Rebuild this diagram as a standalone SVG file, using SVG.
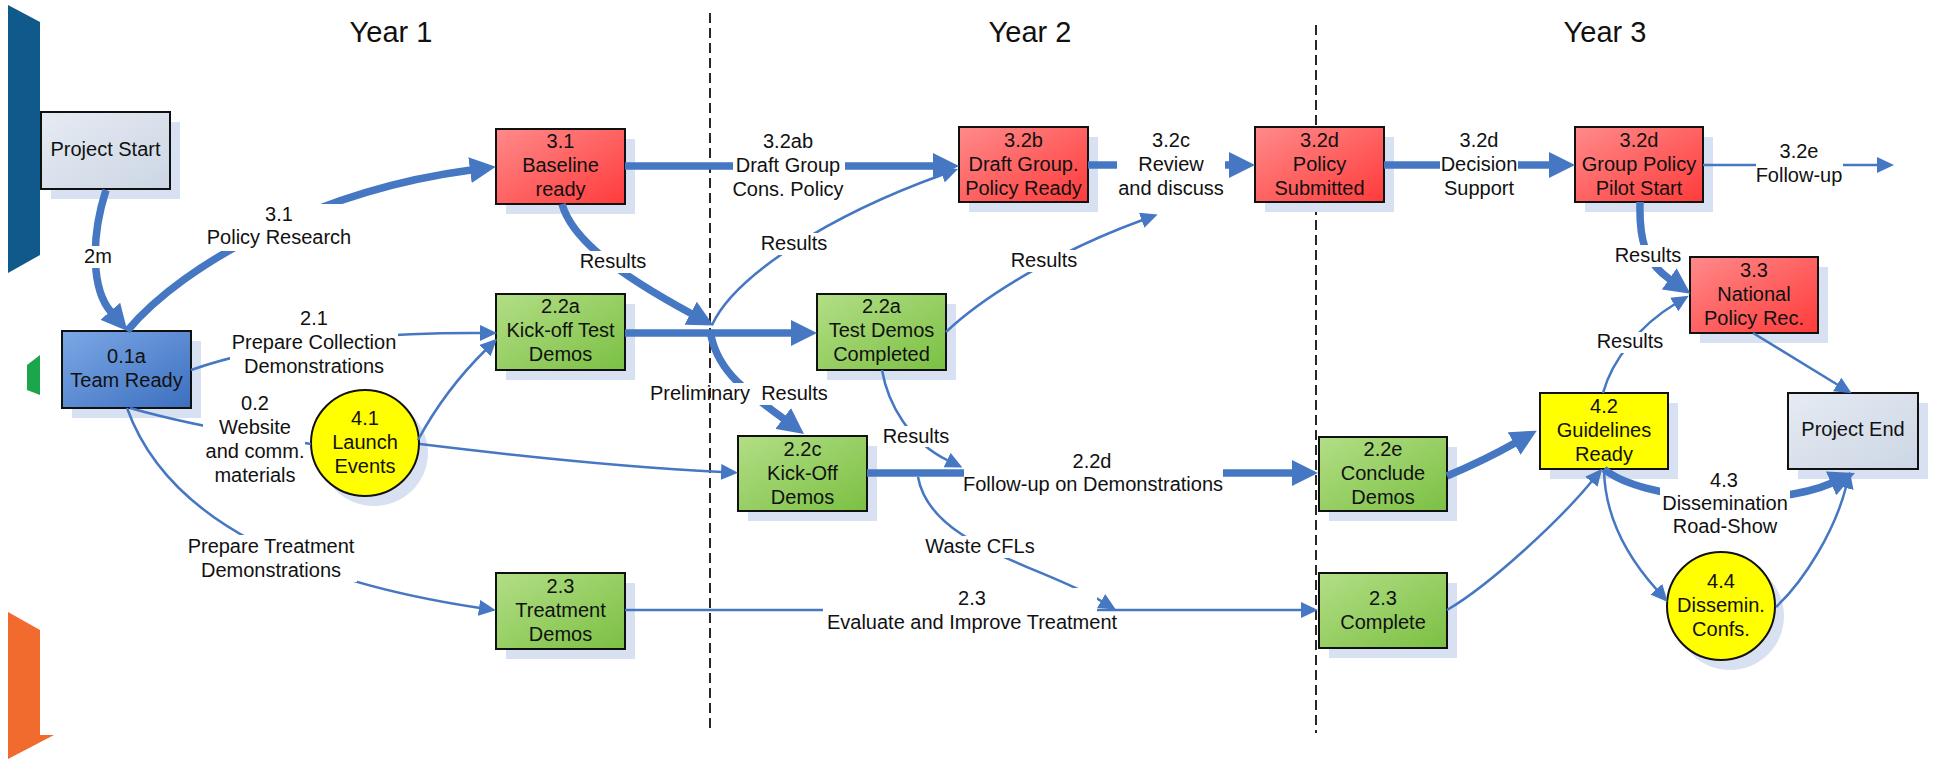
<svg xmlns="http://www.w3.org/2000/svg" width="1933" height="759" viewBox="0 0 1933 759">
<style>
  text { font-family: "Liberation Sans", Arial, sans-serif; font-size: 20px; fill: #111; text-anchor: middle; }
  .year { font-size: 29px; }
  .box { stroke: #111; stroke-width: 2; }
  .shadow { fill: #d8e1f1; }
  .c { fill: none; stroke: #4677c3; stroke-linecap: butt; }
  .thick { stroke-width: 7.5; marker-end: url(#ahBig); }
  .thin { stroke-width: 2.5; marker-end: url(#ahSmall); }
  .nomark { marker-end: none; }
  .div { stroke: #111; stroke-width: 1.8; stroke-dasharray: 10 5; fill: none; }
  .red { fill: url(#gRed); }
  .green { fill: url(#gGreen); }
  .blue { fill: url(#gBlue); }
  .gray { fill: url(#gGray); }
  .yellow { fill: #ffff00; }
</style>
<defs>
  <linearGradient id="gRed" x1="0" y1="0" x2="1" y2="1">
    <stop offset="0" stop-color="#ff8a8a"/><stop offset="1" stop-color="#ff3b3b"/>
  </linearGradient>
  <linearGradient id="gGreen" x1="0" y1="0" x2="1" y2="1">
    <stop offset="0" stop-color="#b3de86"/><stop offset="1" stop-color="#7bc043"/>
  </linearGradient>
  <linearGradient id="gBlue" x1="0" y1="0" x2="1" y2="1">
    <stop offset="0" stop-color="#7ba8e6"/><stop offset="1" stop-color="#3d6fbf"/>
  </linearGradient>
  <linearGradient id="gGray" x1="0" y1="0" x2="1" y2="1">
    <stop offset="0" stop-color="#e6ebf3"/><stop offset="1" stop-color="#ccd6e4"/>
  </linearGradient>
  <marker id="ahBig" markerUnits="userSpaceOnUse" viewBox="0 0 26 26" markerWidth="26" markerHeight="26" refX="1" refY="13" orient="auto">
    <path d="M0,0 L26,13 L0,26 z" fill="#4677c3"/>
  </marker>
  <marker id="ahSmall" markerUnits="userSpaceOnUse" viewBox="0 0 17 16" markerWidth="17" markerHeight="16" refX="1" refY="8" orient="auto">
    <path d="M0,0 L17,8 L0,16 z" fill="#4677c3"/>
  </marker>
  <mask id="gaps" maskUnits="userSpaceOnUse" x="0" y="0" width="1933" height="759">
    <rect x="0" y="0" width="1933" height="759" fill="#fff"/>
    <g fill="#000">
      <rect x="82" y="246" width="32" height="22"/>
      <rect x="205" y="204" width="147" height="47"/>
      <rect x="578" y="251" width="70" height="22"/>
      <rect x="733" y="130" width="112" height="71"/>
      <rect x="760" y="233" width="69" height="22"/>
      <rect x="1117" y="130" width="108" height="70"/>
      <rect x="1010" y="250" width="69" height="22"/>
      <rect x="1440" y="130" width="78" height="70"/>
      <rect x="1756" y="140" width="87" height="48"/>
      <rect x="1613" y="245" width="70" height="22"/>
      <rect x="1596" y="332" width="69" height="21"/>
      <rect x="230" y="308" width="168" height="70"/>
      <rect x="203" y="392" width="102" height="95"/>
      <rect x="185" y="535" width="172" height="47"/>
      <rect x="646" y="383" width="184" height="22"/>
      <rect x="882" y="426" width="68" height="21"/>
      <rect x="964" y="450" width="259" height="47"/>
      <rect x="922" y="536" width="116" height="22"/>
      <rect x="823" y="588" width="274" height="46"/>
      <rect x="1660" y="470" width="130" height="68"/>
    </g>
  </mask>
</defs>

<rect x="0" y="0" width="1933" height="759" fill="#ffffff"/>

<g id="side-bars">
  <polygon points="8,5 40,22 40,255 8,273" fill="#0f5a8b"/>
  <polygon points="27,365 40,355 40,395 27,390" fill="#1ba64b"/>
  <polygon points="8,612 40,630 40,735 54,735 8,759" fill="#f26b2e"/>
</g>

<g id="years">
  <text class="year" x="391" y="42">Year 1</text>
  <text class="year" x="1030" y="42">Year 2</text>
  <text class="year" x="1605" y="42">Year 3</text>
  <line class="div" x1="710" y1="13" x2="710" y2="733"/>
  <line class="div" x1="1316" y1="25" x2="1316" y2="733"/>
</g>

<g id="node-project-start">
  <rect class="shadow" x="51" y="122" width="129" height="77"/>
  <rect class="box gray" x="41" y="112" width="129" height="77"/>
  <text x="105.5" y="156">Project Start</text>
</g>
<g id="node-0-1a">
  <rect class="shadow" x="72" y="341" width="129" height="77"/>
  <rect class="box blue" x="62" y="331" width="129" height="77"/>
  <text x="126.5" y="363">0.1a</text>
  <text x="126.5" y="387">Team Ready</text>
</g>
<g id="node-3-1">
  <rect class="shadow" x="506" y="139" width="129" height="75"/>
  <rect class="box red" x="496" y="129" width="129" height="75"/>
  <text x="560.5" y="148">3.1</text>
  <text x="560.5" y="172">Baseline</text>
  <text x="560.5" y="196">ready</text>
</g>
<g id="node-2-2a-kickoff">
  <rect class="shadow" x="506" y="304" width="129" height="76"/>
  <rect class="box green" x="496" y="294" width="129" height="76"/>
  <text x="560.5" y="313">2.2a</text>
  <text x="560.5" y="337">Kick-off Test</text>
  <text x="560.5" y="361">Demos</text>
</g>
<g id="node-2-3-treatment">
  <rect class="shadow" x="506" y="583" width="129" height="76"/>
  <rect class="box green" x="496" y="573" width="129" height="76"/>
  <text x="560.5" y="593">2.3</text>
  <text x="560.5" y="617">Treatment</text>
  <text x="560.5" y="641">Demos</text>
</g>
<g id="node-4-1">
  <ellipse class="shadow" cx="374" cy="453" rx="54" ry="53"/>
  <ellipse class="box yellow" cx="365" cy="443" rx="54" ry="53"/>
  <text x="365" y="425">4.1</text>
  <text x="365" y="449">Launch</text>
  <text x="365" y="473">Events</text>
</g>
<g id="node-2-2a-completed">
  <rect class="shadow" x="827" y="304" width="129" height="76"/>
  <rect class="box green" x="817" y="294" width="129" height="76"/>
  <text x="881.5" y="313">2.2a</text>
  <text x="881.5" y="337">Test Demos</text>
  <text x="881.5" y="361">Completed</text>
</g>
<g id="node-2-2c">
  <rect class="shadow" x="748" y="446" width="129" height="75"/>
  <rect class="box green" x="738" y="436" width="129" height="75"/>
  <text x="802.5" y="456">2.2c</text>
  <text x="802.5" y="480">Kick-Off</text>
  <text x="802.5" y="504">Demos</text>
</g>
<g id="node-3-2b">
  <rect class="shadow" x="969" y="137" width="129" height="75"/>
  <rect class="box red" x="959" y="127" width="129" height="75"/>
  <text x="1023.5" y="147">3.2b</text>
  <text x="1023.5" y="171">Draft Group.</text>
  <text x="1023.5" y="195">Policy Ready</text>
</g>
<g id="node-3-2d-submitted">
  <rect class="shadow" x="1265" y="137" width="129" height="75"/>
  <rect class="box red" x="1255" y="127" width="129" height="75"/>
  <text x="1319.5" y="147">3.2d</text>
  <text x="1319.5" y="171">Policy</text>
  <text x="1319.5" y="195">Submitted</text>
</g>
<g id="node-3-2d-pilot">
  <rect class="shadow" x="1585" y="137" width="128" height="75"/>
  <rect class="box red" x="1575" y="127" width="128" height="75"/>
  <text x="1639" y="147">3.2d</text>
  <text x="1639" y="171">Group Policy</text>
  <text x="1639" y="195">Pilot Start</text>
</g>
<g id="node-3-3">
  <rect class="shadow" x="1700" y="267" width="128" height="76"/>
  <rect class="box red" x="1690" y="257" width="128" height="76"/>
  <text x="1754" y="277">3.3</text>
  <text x="1754" y="301">National</text>
  <text x="1754" y="325">Policy Rec.</text>
</g>
<g id="node-2-2e">
  <rect class="shadow" x="1329" y="447" width="128" height="74"/>
  <rect class="box green" x="1319" y="437" width="128" height="74"/>
  <text x="1383" y="456">2.2e</text>
  <text x="1383" y="480">Conclude</text>
  <text x="1383" y="504">Demos</text>
</g>
<g id="node-2-3-complete">
  <rect class="shadow" x="1329" y="583" width="128" height="75"/>
  <rect class="box green" x="1319" y="573" width="128" height="75"/>
  <text x="1383" y="605">2.3</text>
  <text x="1383" y="629">Complete</text>
</g>
<g id="node-4-2">
  <rect class="shadow" x="1550" y="403" width="128" height="76"/>
  <rect class="box yellow" x="1540" y="393" width="128" height="76"/>
  <text x="1604" y="413">4.2</text>
  <text x="1604" y="437">Guidelines</text>
  <text x="1604" y="461">Ready</text>
</g>
<g id="node-project-end">
  <rect class="shadow" x="1798" y="403" width="130" height="76"/>
  <rect class="box gray" x="1788" y="393" width="130" height="76"/>
  <text x="1853" y="436">Project End</text>
</g>
<g id="node-4-4">
  <ellipse class="shadow" cx="1730" cy="616" rx="54" ry="54"/>
  <ellipse class="box yellow" cx="1721" cy="606" rx="54" ry="54"/>
  <text x="1721" y="588">4.4</text>
  <text x="1721" y="612">Dissemin.</text>
  <text x="1721" y="636">Confs.</text>
</g>

<g id="connectors" mask="url(#gaps)">
  <path id="c-start-team" class="c thick" d="M106,190 C90,240 92,290 111,312"/>
  <path id="c-team-baseline" class="c thick" d="M127,331 C185,262 320,190 471,170"/>
  <path id="c-baseline-32b" class="c thick" d="M625,166 L934,166"/>
  <path id="c-32b-32d" class="c thick" d="M1088,165 L1230,165"/>
  <path id="c-32d-pilot" class="c thick" d="M1384,165 L1550,165"/>
  <path id="c-pilot-followup" class="c thin" d="M1703,165 L1878,165"/>
  <path id="c-pilot-33" class="c thick" d="M1640,202 C1639,240 1645,262 1670,279.5"/>
  <path id="c-42-33" class="c thin" d="M1603,393 C1612,360 1640,325 1675,304"/>
  <path id="c-33-end" class="c thin" d="M1753,333 L1838,385"/>
  <path id="c-team-kickoff" class="c thin" d="M191,370 Q300,332 481,333"/>
  <path id="c-team-41" class="c thin nomark" d="M130,408 Q200,428 311,444"/>
  <path id="c-team-treatment" class="c thin" d="M127,408 C160,500 260,575 480,608"/>
  <path id="c-41-kickoff" class="c thin" d="M418,440 Q445,390 485.6,350"/>
  <path id="c-41-22c" class="c thin" d="M420,444 Q600,466 722,472"/>
  <path id="c-baseline-results" class="c thick" d="M562,204 C572,240 620,275 691.5,313.7"/>
  <path id="c-prelim-22c" class="c thick" d="M710,330 C716,372 748,392 784,419"/>
  <path id="c-kickoff-completed" class="c thick" d="M625,333 L792,333"/>
  <path id="c-results-32b" class="c thin" d="M712,325 C735,275 830,215 943,174.5"/>
  <path id="c-completed-32c" class="c thin" d="M946,332 C985,295 1060,250 1142.6,220"/>
  <path id="c-completed-22d" class="c thin" d="M882,370 C888,405 910,442 948,460.5"/>
  <path id="c-22c-22e" class="c thick" d="M867,473 L1293,473"/>
  <path id="c-waste" class="c thin" d="M918,477 C930,545 1040,565 1102,601.5"/>
  <path id="c-treatment-complete" class="c thin" d="M625,610 L1302,610"/>
  <path id="c-22e-42" class="c thick" d="M1447,476 Q1485,460 1515,443"/>
  <path id="c-complete-42" class="c thin" d="M1447,610 C1490,585 1560,520 1592,481"/>
  <path id="c-42-44" class="c thin" d="M1604,470 C1605,520 1630,560 1657,590"/>
  <path id="c-44-end" class="c thin" d="M1776,607 C1805,580 1835,530 1846,487"/>
  <path id="c-42-end" class="c thick" d="M1604,469 C1640,500 1770,510 1832,483"/>
</g>

<g id="connector-labels">
  <text x="98" y="263">2m</text>
  <text x="279" y="221">3.1</text>
  <text x="279" y="244">Policy Research</text>
  <text x="613" y="268">Results</text>
  <text x="788" y="148">3.2ab</text>
  <text x="788" y="172">Draft Group</text>
  <text x="788" y="196">Cons. Policy</text>
  <text x="794" y="250">Results</text>
  <text x="1171" y="147">3.2c</text>
  <text x="1171" y="171">Review</text>
  <text x="1171" y="195">and discuss</text>
  <text x="1044" y="267">Results</text>
  <text x="1479" y="147">3.2d</text>
  <text x="1479" y="171">Decision</text>
  <text x="1479" y="195">Support</text>
  <text x="1799" y="158">3.2e</text>
  <text x="1799" y="182">Follow-up</text>
  <text x="1648" y="262">Results</text>
  <text x="1630" y="348">Results</text>
  <text x="314" y="325">2.1</text>
  <text x="314" y="349">Prepare Collection</text>
  <text x="314" y="373">Demonstrations</text>
  <text x="255" y="410">0.2</text>
  <text x="255" y="434">Website</text>
  <text x="255" y="458">and comm.</text>
  <text x="255" y="482">materials</text>
  <text x="271" y="553">Prepare Treatment</text>
  <text x="271" y="577">Demonstrations</text>
  <text x="650" y="400" style="text-anchor:start; white-space:pre" xml:space="preserve">Preliminary  Results</text>
  <text x="916" y="443">Results</text>
  <text x="1092" y="468">2.2d</text>
  <text x="1093" y="491">Follow-up on Demonstrations</text>
  <text x="980" y="553">Waste CFLs</text>
  <text x="972" y="605">2.3</text>
  <text x="972" y="629">Evaluate and Improve Treatment</text>
  <text x="1724" y="487">4.3</text>
  <text x="1725" y="510">Dissemination</text>
  <text x="1725" y="533">Road-Show</text>
</g>
</svg>
